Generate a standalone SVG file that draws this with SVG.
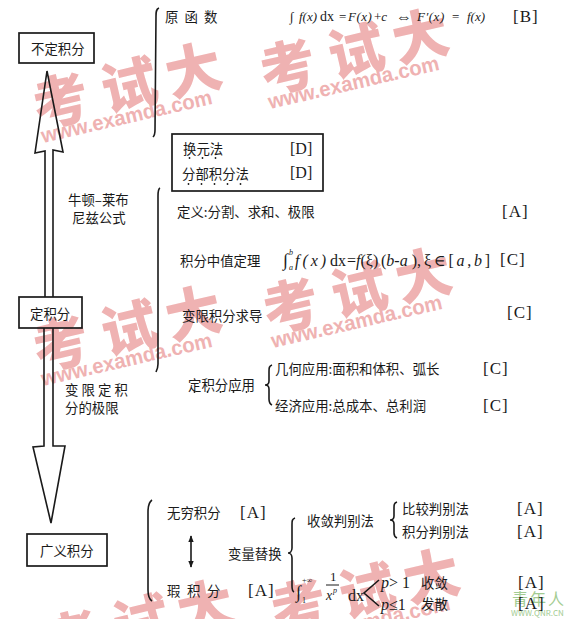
<svg xmlns="http://www.w3.org/2000/svg" xmlns:xlink="http://www.w3.org/1999/xlink" width="570" height="619" viewBox="0 0 570 619">
<style>
.t{font-family:"Noto Sans CJK SC","Noto Sans",sans-serif;font-size:13.4px;fill:#1a1a1a;dominant-baseline:central}
.m{font-family:"Liberation Serif","DejaVu Serif",serif;fill:#1a1a1a;dominant-baseline:central}
.i{font-style:italic}
.tag{font-family:"Liberation Serif","DejaVu Serif",serif;font-size:17px;letter-spacing:1px;fill:#1a1a1a;dominant-baseline:central}
.box{fill:none;stroke:#1a1a1a;stroke-width:1.7}
.ln{fill:none;stroke:#1a1a1a;stroke-width:1.6;stroke-linejoin:miter}
.dot{fill:#1a1a1a}
.wmc{font-family:"Noto Sans CJK SC",sans-serif;font-weight:900;font-size:56px;fill:#efb2b2;text-anchor:middle;dominant-baseline:central}
.wmu{font-family:"Liberation Sans",Arial,sans-serif;font-weight:bold;font-size:21px;fill:#efb2b2}
.gw{font-family:"Noto Sans CJK SC",sans-serif;fill:#a3cc92}
</style>
<defs>
<marker id="ah" viewBox="0 0 10 10" refX="9" refY="5" markerWidth="7" markerHeight="7" markerUnits="userSpaceOnUse" orient="auto-start-reverse"><path d="M0,1 L10,5 L0,9 z" fill="#1a1a1a"/></marker>
<g id="wm"><g transform="rotate(-13)">
<text class="wmc" x="0" y="0">考</text><text class="wmc" x="70" y="0">试</text><text class="wmc" x="136" y="0">大</text>
<text class="wmu" x="-27" y="41" textLength="175" lengthAdjust="spacingAndGlyphs">www.examda.com</text>
</g></g>
</defs>
<rect width="570" height="619" fill="#fff"/>
<g id="watermark">
<use xlink:href="#wm" transform="translate(60,97)"/>
<use xlink:href="#wm" transform="translate(287,63)"/>
<use xlink:href="#wm" transform="translate(60,340)"/>
<use xlink:href="#wm" transform="translate(290,302)"/>
<use xlink:href="#wm" transform="translate(72,634)"/>
<use xlink:href="#wm" transform="translate(298,603)"/>
<text class="gw" x="512" y="605" font-size="16" letter-spacing="2">青年人</text>
<text class="gw" x="511" y="616" font-size="8" font-family="Liberation Sans,sans-serif">WWW.QNR.CN</text>
</g>

<g id="connectors">
<path class="ln" d="M45,297 L45,151 L35,153 L47,71 L63,152 L53,150 L53,297"/>
<path class="ln" d="M44,328 L44,446 L33,447 L51,523 L65,446 L53,446 L53,328"/>
<path class="ln" d="M159,8 C156,9 156,12 156,16 L155,130 C155,134 154,136 153,137"/>
<path class="ln" d="M160,188 C158,189 158,192 158,196 L158,364 C158,368 157,370 156,372"/>
<path class="ln" d="M272,365 C269,366 269,368 269,372 L269,381 C269,384 267,385 265,385 C267,385 269,386 269,389 L269,399 C269,402 270,404 272,405"/>
<path class="ln" d="M152,500 C149,502 148,506 148,512 L148,590 C148,596 149,599 152,601"/>
<path class="ln" d="M295,518 C292,519 292,521 292,525 L292,548 C292,551 290,553 288,553 C290,553 292,555 292,558 L292,586 C292,589 292,591 294,592"/>
<path class="ln" d="M397,502 C394,503 394,505 394,508 L394,516 C394,519 392,520 390,520 C392,520 394,521 394,524 L394,533 C394,536 395,537 397,538"/>
<line class="ln" x1="191" y1="536" x2="191" y2="567" marker-start="url(#ah)" marker-end="url(#ah)"/>
<path class="ln" d="M379,580 L364,593 L379,606" stroke-width="1.3"/>
</g>

<g id="n-budingjifen">
<rect class="box" x="19" y="33" width="75" height="30"/>
<text class="t" x="31" y="48">不定积分</text>
</g>
<g id="n-dingjifen">
<rect class="box" x="19" y="297" width="63" height="31"/>
<text class="t" x="30" y="313">定积分</text>
</g>
<g id="n-guangyijifen">
<rect class="box" x="27" y="534" width="80" height="32"/>
<text class="t" x="40" y="550">广义积分</text>
</g>
<g id="n-newton">
<text class="t" x="68" y="199">牛顿–莱布</text>
<text class="t" x="72" y="217">尼兹公式</text>
</g>
<g id="n-bianxian">
<text class="t" x="65 81.5 98 114.5" y="389">变限定积</text>
<text class="t" x="65" y="407">分的极限</text>
</g>

<g id="n-yuanhanshu">
<text class="t" x="165 184.5 204" y="16">原函数</text>
<text class="m" x="290" y="16" font-size="13">∫</text>
<text class="m i" x="299" y="16" font-size="13">f(x)</text>
<text class="m" x="320" y="16" font-size="14">dx</text>
<text class="m" x="339" y="16" font-size="13">=</text>
<text class="m i" x="348" y="16" font-size="13" letter-spacing="0.5">F(x)</text>
<text class="m" x="374" y="16" font-size="13">+<tspan class="i">c</tspan></text>
<text class="m" x="396" y="16" font-size="16" font-family="DejaVu Sans,sans-serif">⇔</text>
<text class="m i" x="417" y="16" font-size="13" letter-spacing="0.5">F′(x)</text>
<text class="m" x="452" y="16" font-size="13">=</text>
<text class="m i" x="467" y="16" font-size="13">f(x)</text>
<text class="tag" x="513" y="16">[B]</text>
</g>

<g id="n-methods">
<rect class="box" x="172" y="134" width="151" height="57"/>
<text class="t" x="183" y="148">换元法</text>
<text class="t" x="182" y="173">分部积分法</text>
<text class="m" x="290" y="148" font-size="16">[D]</text>
<text class="m" x="290" y="172" font-size="16">[D]</text>
<circle class="dot" cx="189.5" cy="158" r="0.9"/><circle class="dot" cx="202.5" cy="158" r="0.9"/><circle class="dot" cx="215.5" cy="158" r="0.9"/>
<circle class="dot" cx="188.5" cy="184" r="0.9"/><circle class="dot" cx="201.5" cy="184" r="0.9"/><circle class="dot" cx="214.5" cy="184" r="0.9"/><circle class="dot" cx="227.5" cy="184" r="0.9"/><circle class="dot" cx="240.5" cy="184" r="0.9"/>
</g>

<g id="n-dingyi">
<text class="t" x="177" y="211">定义:分割、求和、极限</text>
<text class="tag" x="502" y="211">[A]</text>
</g>

<g id="n-zhongzhi">
<text class="t" x="180" y="260">积分中值定理</text>
<text class="m" x="283" y="260" font-size="18">∫</text>
<text class="m i" x="289" y="252" font-size="8">b</text>
<text class="m i" x="289" y="267" font-size="8">a</text>
<text class="m i" x="295" y="260" font-size="16" textLength="31" lengthAdjust="spacing">f(x)</text>
<text class="m" x="330" y="260" font-size="16">dx</text>
<text class="m" x="347" y="260" font-size="16">=<tspan class="i">f</tspan>(ξ)</text>
<text class="m" x="381" y="260" font-size="16">(<tspan class="i">b</tspan>-<tspan class="i">a</tspan> ),</text>
<text class="m" x="424" y="260" font-size="16" textLength="66" lengthAdjust="spacing">ξ∈[<tspan class="i">a</tspan>,<tspan class="i">b</tspan>]</text>
<text class="tag" x="500" y="259">[C]</text>
</g>

<g id="n-qiudao">
<text class="t" x="182" y="315">变限积分求导</text>
<text class="tag" x="507" y="312">[C]</text>
</g>

<g id="n-yingyong">
<text class="t" x="188" y="384">定积分应用</text>
<circle class="dot" cx="194.5" cy="392" r="0.9"/><circle class="dot" cx="207.5" cy="392" r="0.9"/><circle class="dot" cx="220.5" cy="392" r="0.9"/><circle class="dot" cx="233.5" cy="392" r="0.9"/><circle class="dot" cx="246.5" cy="392" r="0.9"/>
</g>
<g id="n-jihe">
<text class="t" x="275" y="368">几何应用:面积和体积、弧长</text>
<text class="tag" x="483" y="368">[C]</text>
</g>
<g id="n-jingji">
<text class="t" x="275" y="405">经济应用:总成本、总利润</text>
<text class="tag" x="483" y="405">[C]</text>
</g>

<g id="n-wuqiong">
<text class="t" x="167" y="512">无穷积分</text>
<text class="tag" x="240" y="512">[A]</text>
</g>
<g id="n-bianliang">
<text class="t" x="228" y="553">变量替换</text>
</g>
<g id="n-xia">
<text class="t" x="167 187 207" y="590">瑕积分</text>
<text class="tag" x="248" y="590">[A]</text>
</g>
<g id="n-shoulian">
<text class="t" x="307" y="520">收敛判别法</text>
</g>
<g id="n-bijiao">
<text class="t" x="402" y="508">比较判别法</text>
<text class="tag" x="517" y="508">[A]</text>
</g>
<g id="n-jifenpan">
<text class="t" x="402" y="531">积分判别法</text>
<text class="tag" x="517" y="531">[A]</text>
</g>
<g id="n-pformula">
<text class="m" x="296" y="592" font-size="18">∫</text>
<text class="m" x="302" y="580" font-size="8">+∞</text>
<text class="m" x="302" y="600" font-size="8">1</text>
<text class="m" x="330" y="576" font-size="13">1</text>
<line x1="326" y1="585" x2="339" y2="585" stroke="#1a1a1a" stroke-width="1"/>
<text class="m i" x="326" y="595" font-size="14">x</text>
<text class="m i" x="333" y="590" font-size="8">p</text>
<text class="m" x="348" y="595" font-size="16">dx</text>
<text class="m" x="381" y="582" font-size="16"><tspan class="i">p</tspan>&gt; 1</text>
<text class="t" x="421" y="582">收敛</text>
<text class="m" x="381" y="604" font-size="16"><tspan class="i">p</tspan>≤1</text>
<text class="t" x="421" y="603">发散</text>
<text class="tag" x="518" y="582">[A]</text>
<text class="tag" x="518" y="603">[A]</text>
</g>
</svg>
